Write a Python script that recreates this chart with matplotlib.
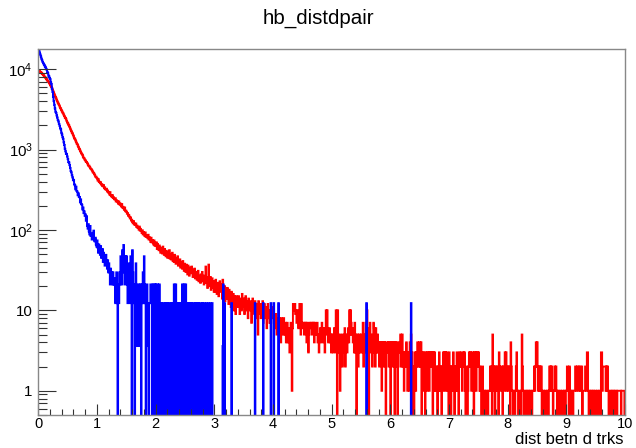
import numpy as np
import matplotlib.pyplot as plt
from matplotlib.ticker import MultipleLocator, FixedLocator, LogLocator, NullFormatter

plt.rcParams['font.family'] = ['Liberation Sans', 'DejaVu Sans']

# 1000 bins, 0 -> 10, width 0.01
edges = np.linspace(0, 10, 1001)

# red histogram, one list per unit of x
red_0 = [9540, 9430, 9350, 9230, 9130, 8990, 8800, 8640, 8470, 8300,
         8100, 7950, 7790, 7620, 7420, 7250, 7120, 6950, 6810, 6570,
         6380, 6150, 6010, 5760, 5530, 5290, 5090, 4860, 4660, 4480,
         4330, 4150, 3980, 3820, 3710, 3580, 3430, 3300, 3220, 3090,
         2990, 2880, 2820, 2710, 2620, 2510, 2460, 2380, 2270, 2180,
         2120, 2040, 1990, 1900, 1830, 1760, 1690, 1620, 1580, 1510,
         1450, 1380, 1360, 1300, 1250, 1190, 1170, 1120, 1080, 1030,
         1005, 970, 935, 900, 880, 850, 815, 785, 775, 745,
         730, 705, 700, 680, 655, 630, 630, 610, 595, 575,
         570, 555, 535, 515, 515, 500, 480, 460, 460, 445]
red_1 = [437, 412, 428, 401, 395, 381, 392, 366, 371, 352,
         348, 361, 330, 339, 322, 316, 325, 301, 309, 294,
         289, 276, 295, 270, 266, 258, 271, 249, 255, 243,
         239, 248, 226, 234, 229, 221, 212, 226, 208, 214,
         203, 196, 210, 190, 194, 186, 178, 190, 171, 174,
         168, 159, 162, 150, 154, 146, 139, 143, 131, 134,
         126, 121, 129, 117, 120, 115, 120, 109, 113, 106,
         107, 101, 110, 98, 103, 97, 92, 99, 88, 94,
         89, 84, 93, 82, 86, 83, 79, 87, 76, 81,
         78, 71, 80, 70, 75, 72, 66, 74, 64, 69]
red_2 = [63, 70, 58, 67, 61, 56, 64, 59, 52, 60,
         57, 51, 62, 54, 49, 58, 52, 47, 55, 50,
         45, 53, 48, 56, 44, 50, 43, 47, 52, 41,
         46, 40, 49, 42, 38, 44, 39, 47, 36, 42,
         37, 43, 34, 40, 38, 33, 41, 36, 31, 38,
         35, 30, 37, 33, 28, 36, 31, 27, 34, 30,
         29, 35, 31, 26, 32, 28, 33, 25, 30, 27,
         24, 29, 31, 23, 27, 26, 22, 28, 25, 30,
         23, 27, 21, 25, 24, 35, 22, 26, 19, 24,
         37, 23, 20, 26, 18, 22, 25, 19, 23, 17]
red_3 = [21, 17, 24, 19, 16, 22, 18, 15, 20, 23,
         17, 21, 19, 14, 24, 18, 16, 20, 13, 19,
         17, 14, 19, 15, 12, 18, 13, 16, 11, 17,
         14, 12, 16, 10, 15, 13, 9, 15, 12, 14,
         11, 15, 12, 9, 14, 13, 10, 16, 12, 11,
         14, 9, 12, 15, 10, 12, 13, 8, 14, 11,
         10, 13, 12, 7, 11, 14, 10, 12, 9, 13,
         11, 8, 12, 10, 5, 13, 10, 9, 12, 8,
         11, 9, 13, 7, 10, 12, 8, 10, 11, 6,
         9, 12, 8, 10, 7, 10, 7, 9, 11, 8]
red_4 = [10, 8, 6, 9, 7, 9, 5, 8, 7, 6,
         8, 6, 7, 4, 8, 6, 7, 5, 8, 6,
         5, 7, 4, 6, 7, 4, 6, 5, 3, 6,
         7, 5, 1, 6, 12, 12, 10, 12, 9, 10,
         7, 10, 9, 6, 8, 12, 7, 5, 12, 7,
         6, 7, 7, 5, 7, 6, 7, 4, 7, 6,
         3, 5, 7, 6, 7, 7, 5, 7, 6, 7,
         4, 7, 5, 6, 5, 7, 4, 5, 3, 5,
         6, 4, 5, 7, 5, 4, 6, 5, 3, 6,
         10, 5, 10, 6, 4, 5, 6, 4, 5, 3]
red_5 = [5, 4, 3, 5, 6, 4, 3, 10, 5, 0,
         10, 5, 3, 4, 1, 5, 3, 4, 2, 5,
         3, 4, 6, 2, 5, 4, 3, 5, 6, 4,
         10, 5, 10, 7, 5, 6, 4, 5, 3, 7,
         3, 5, 0, 4, 5, 2, 4, 5, 3, 4,
         5, 3, 4, 7, 2, 4, 3, 5, 7, 3,
         10, 4, 3, 0, 6, 7, 3, 5, 4, 2,
         3, 7, 6, 4, 2, 6, 3, 4, 5, 3,
         4, 2, 4, 3, 4, 1, 4, 3, 4, 2,
         4, 3, 0, 4, 4, 3, 4, 2, 4, 3]
red_6 = [0, 4, 3, 4, 2, 4, 3, 0, 4, 2,
         4, 3, 0, 2, 4, 3, 4, 5, 2, 3,
         5, 2, 3, 1, 2, 3, 2, 4, 3, 1,
         2, 3, 1, 4, 2, 5, 3, 0, 2, 1,
         0, 3, 2, 1, 3, 2, 4, 3, 2, 4,
         4, 2, 4, 0, 3, 2, 1, 3, 2, 0,
         3, 2, 1, 3, 2, 3, 1, 3, 2, 3,
         2, 3, 0, 3, 1, 3, 2, 1, 2, 2,
         0, 2, 1, 3, 2, 1, 2, 0, 2, 1,
         3, 2, 3, 1, 3, 2, 3, 1, 2, 0]
red_7 = [3, 1, 2, 0, 2, 1, 2, 3, 1, 0,
         2, 1, 2, 3, 1, 2, 0, 3, 2, 2,
         3, 2, 1, 2, 3, 2, 3, 1, 0, 2,
         2, 0, 1, 2, 3, 2, 3, 2, 1, 3,
         3, 2, 0, 3, 2, 3, 1, 2, 3, 2,
         3, 2, 1, 2, 1, 0, 1, 2, 1, 0,
         1, 1, 0, 1, 1, 1, 0, 1, 1, 1,
         2, 1, 2, 0, 5, 2, 1, 2, 0, 2,
         2, 1, 2, 2, 0, 3, 2, 1, 2, 2,
         2, 0, 2, 2, 1, 3, 2, 3, 1, 2]
red_8 = [2, 1, 2, 2, 0, 4, 2, 1, 1, 0,
         1, 1, 0, 1, 2, 3, 1, 1, 0, 1,
         1, 1, 0, 1, 5, 2, 1, 0, 1, 1,
         1, 0, 1, 1, 0, 1, 1, 0, 1, 1,
         1, 0, 1, 1, 1, 2, 1, 2, 4, 2,
         4, 2, 1, 2, 1, 2, 1, 2, 0, 1,
         1, 1, 0, 1, 1, 1, 0, 1, 1, 0,
         1, 2, 1, 2, 1, 2, 1, 0, 1, 1,
         2, 1, 2, 1, 0, 1, 1, 0, 1, 1,
         1, 0, 1, 1, 1, 0, 1, 1, 0, 1]
red_9 = [1, 2, 2, 1, 0, 2, 1, 1, 0, 1,
         1, 0, 1, 1, 1, 2, 2, 1, 2, 2,
         2, 1, 2, 2, 1, 1, 2, 0, 1, 1,
         1, 1, 2, 2, 1, 3, 3, 1, 0, 1,
         1, 0, 1, 1, 0, 1, 1, 0, 1, 1,
         1, 0, 1, 1, 1, 0, 1, 1, 0, 3,
         3, 1, 2, 2, 2, 2, 2, 1, 2, 1,
         2, 1, 0, 1, 1, 1, 0, 1, 1, 0,
         1, 1, 0, 1, 1, 1, 0, 1, 1, 1,
         1, 1, 1, 0, 1, 1, 1, 1, 1, 0]

# blue histogram, 0 -> 3, then isolated filled bins
blue_0 = [17800, 17100, 16000, 15200, 14300, 13500, 12900, 12300, 11900, 11500,
          11200, 10800, 10500, 10100, 9800, 9200, 8900, 8300, 8100, 7700,
          7500, 6800, 6500, 5700, 5200, 4500, 4000, 3600, 3250, 2950,
          2850, 2650, 2500, 2330, 2230, 2080, 1970, 1840, 1780, 1620,
          1540, 1420, 1360, 1230, 1140, 1020, 950, 890, 880, 820,
          760, 700, 690, 640, 590, 540, 520, 480, 450, 415,
          420, 370, 360, 320, 345, 305, 300, 270, 285, 258,
          255, 220, 240, 210, 205, 180, 190, 162, 170, 150,
          156, 130, 148, 112, 104, 118, 96, 88, 112, 84,
          90, 76, 80, 92, 98, 74, 72, 80, 66, 62]
blue_1 = [74, 60, 52, 66, 58, 49, 63, 45, 55, 58,
          40, 52, 47, 36, 44, 49, 38, 33, 42, 29.7,
          38.4, 29.7, 21, 33, 25, 29.7, 21, 29.7, 21, 25,
          21, 12.3, 21, 29.7, 12.3, 0, 21, 12.3, 29.7, 21,
          47, 38.4, 21, 56, 29.7, 65, 38.4, 21, 47, 29.7,
          47, 21, 12.3, 38.4, 21, 29.7, 12.3, 47, 21, 0,
          56, 29.7, 12.3, 21, 0, 21, 38.4, 12.3, 3.6, 21,
          21, 12.3, 3.6, 21, 12.3, 0, 21, 12.3, 29.7, 12.3,
          47, 21, 12.3, 0, 12.3, 21, 3.6, 12.3, 0, 12.3,
          12.3, 21, 21, 12.3, 0, 21, 12.3, 0, 21, 12.3]
blue_2 = [21, 0, 12.3, 21, 0, 12.3, 21, 0, 12.3, 0,
          12.3, 3.6, 0, 12.3, 12.3, 0, 12.3, 0, 3.6, 12.3,
          12.3, 0, 12.3, 12.3, 0, 3.6, 12.3, 0, 12.3, 12.3,
          0, 21, 12.3, 0, 21, 12.3, 0, 12.3, 12.3, 0,
          12.3, 0, 3.6, 12.3, 0, 21, 12.3, 0, 21, 12.3,
          0, 21, 12.3, 0, 12.3, 12.3, 0, 12.3, 0, 3.6,
          0, 12.3, 0, 12.3, 12.3, 0, 3.6, 12.3, 0, 12.3,
          12.3, 0, 12.3, 0, 0, 12.3, 12.3, 0, 0, 12.3,
          0, 0, 12.3, 0, 0, 0, 12.3, 0, 0, 0,
          12.3, 0, 0, 12.3, 0, 0, 12.3, 0, 0, 0]
blue_tail_x = [3.145, 3.155, 3.175, 3.295, 3.695, 3.835, 3.965, 4.015, 4.095, 5.595, 6.355]
blue_tail_y = [3.6, 21, 12.3, 12.3, 12.3, 12.3, 12.3, 12.3, 12.3, 12.3, 12.3]

red = np.array(red_0 + red_1 + red_2 + red_3 + red_4 + red_5 + red_6 + red_7 + red_8 + red_9, dtype=float)
blue = np.zeros(1000)
blue[:300] = blue_0 + blue_1 + blue_2
for xv, yv in zip(blue_tail_x, blue_tail_y):
    blue[int(np.floor(xv * 100))] = yv

fig = plt.figure(figsize=(6.36, 4.48), dpi=100)
ax = fig.add_axes([0.0602, 0.0737, 0.9225, 0.817])

# empty bins drop below the frame, like ROOT on a log axis
ax.stairs(np.where(red > 0, red, 1e-2), edges, color='#ff0000', lw=1.4, baseline=None)
ax.stairs(np.where(blue > 0, blue, 1e-2), edges, color='#0000ff', lw=1.4, baseline=None)

ax.set_yscale('log')
ax.set_xlim(0, 10)
ax.set_ylim(0.5, 17800)

ax.xaxis.set_major_locator(MultipleLocator(1))
ax.xaxis.set_minor_locator(MultipleLocator(0.2))
ax.yaxis.set_major_locator(FixedLocator([1, 10, 100, 1000, 10000]))
ax.set_yticklabels(['1', '10', r'$\mathregular{10^{2}}$', r'$\mathregular{10^{3}}$', r'$\mathregular{10^{4}}$'])
ax.yaxis.set_minor_locator(LogLocator(base=10, subs=np.arange(2, 10)))
ax.yaxis.set_minor_formatter(NullFormatter())

ax.tick_params(axis='x', which='major', direction='in', length=8, width=0.8, color='#333333', labelsize=10.5, pad=1.5)
ax.tick_params(axis='x', which='minor', direction='in', length=4.3, width=0.8, color='#333333')
ax.tick_params(axis='y', which='major', direction='in', length=13, width=0.8, color='#333333', labelsize=10.8, pad=4)
ax.tick_params(axis='y', which='minor', direction='in', length=6.5, width=0.8, color='#333333')

for s in ax.spines.values():
    s.set_color('#888888')
    s.set_linewidth(1.0)

fig.text(0.5, 0.96, 'hb_distdpair', ha='center', va='center', fontsize=14.8)
fig.text(0.9796, 0.002, 'dist betn d trks', ha='right', va='bottom', fontsize=12)

fig.savefig('out.png', dpi=100)
